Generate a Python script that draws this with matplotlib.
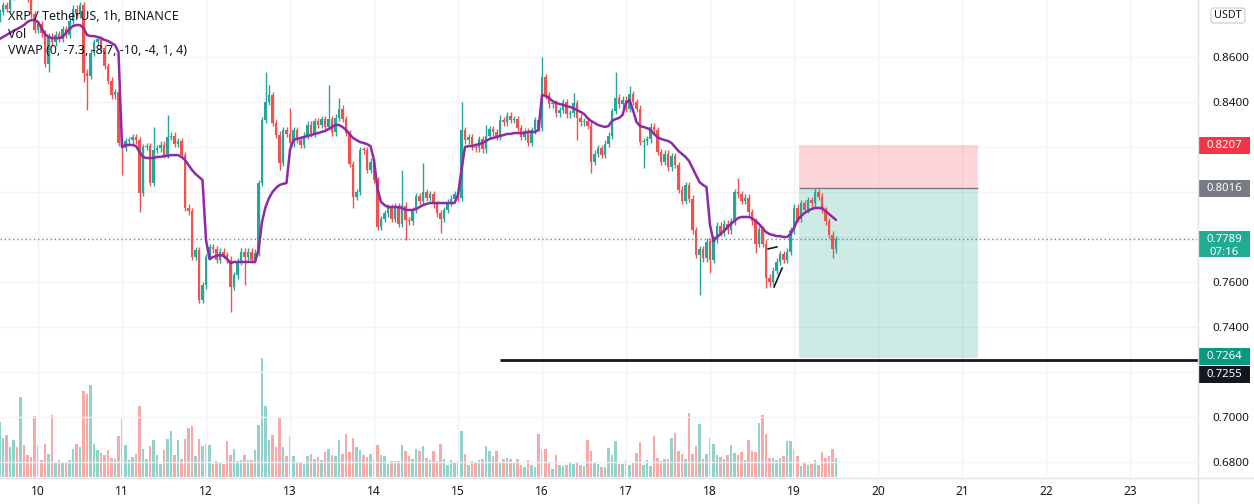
import numpy as np
import matplotlib
matplotlib.use("Agg")
import matplotlib.pyplot as plt
from matplotlib.patches import Rectangle, FancyBboxPatch
from matplotlib.lines import Line2D

# ---------------- data ----------------
first_hour = -11          # first candle, hours relative to day 10 00:00
first_open = 0.8770
closes = [
    0.8800, 0.8830, 0.8815, 0.8870, 0.8900, 0.8880, 0.8910, 0.8890, 0.8860, 0.8790,
    0.8720, 0.8745, 0.8705, 0.8570, 0.8690, 0.8665, 0.8700, 0.8680, 0.8725, 0.8700,
    0.8760, 0.8815, 0.8790, 0.8830, 0.8530, 0.8515, 0.8620, 0.8665, 0.8680, 0.8640,
    0.8560, 0.8495, 0.8430, 0.8445, 0.8220, 0.8196, 0.8227, 0.8230, 0.8245, 0.8230,
    0.7996, 0.8200, 0.8205, 0.8040, 0.8187, 0.8195, 0.8210, 0.8165, 0.8245, 0.8250,
    0.8215, 0.8225, 0.8165, 0.7930, 0.7915, 0.7711, 0.7742, 0.7520, 0.7585, 0.7711,
    0.7756, 0.7745, 0.7698, 0.7735, 0.7720, 0.7700, 0.7578, 0.7630, 0.7690, 0.7735,
    0.7710, 0.7735, 0.7700, 0.7730, 0.8040, 0.8320, 0.8400, 0.8430, 0.8307, 0.8254,
    0.8129, 0.8276, 0.8260, 0.8216, 0.8276, 0.8233, 0.8210, 0.8250, 0.8300, 0.8260,
    0.8316, 0.8300, 0.8324, 0.8290, 0.8324, 0.8265, 0.8330, 0.8370, 0.8325, 0.8262,
    0.8125, 0.7978, 0.8000, 0.8187, 0.8185, 0.8100, 0.8135, 0.8053, 0.7844, 0.7880,
    0.7905, 0.7930, 0.7880, 0.7935, 0.7860, 0.7940, 0.7875, 0.7870, 0.7920, 0.7982,
    0.7960, 0.8000, 0.7975, 0.7990, 0.7945, 0.7905, 0.7880, 0.7920, 0.7955, 0.7970,
    0.7990, 0.7975, 0.8276, 0.8230, 0.8245, 0.8200, 0.8195, 0.8235, 0.8190, 0.8250,
    0.8280, 0.8265, 0.8245, 0.8320, 0.8310, 0.8340, 0.8320, 0.8325, 0.8285, 0.8245,
    0.8270, 0.8220, 0.8275, 0.8320, 0.8285, 0.8511, 0.8430, 0.8390, 0.8395, 0.8350,
    0.8365, 0.8400, 0.8345, 0.8350, 0.8395, 0.8330, 0.8310, 0.8315, 0.8295, 0.8135,
    0.8170, 0.8195, 0.8165, 0.8215, 0.8250, 0.8360, 0.8420, 0.8390, 0.8410, 0.8370,
    0.8435, 0.8400, 0.8370, 0.8222, 0.8225, 0.8235, 0.8290, 0.8275, 0.8178, 0.8135,
    0.8170, 0.8110, 0.8160, 0.8120, 0.8010, 0.7960, 0.8030, 0.7970, 0.7830, 0.7720,
    0.7745, 0.7705, 0.7780, 0.7700, 0.7790, 0.7850, 0.7820, 0.7860, 0.7830, 0.7870,
    0.8000, 0.7990, 0.7960, 0.7975, 0.7910, 0.7870, 0.7770, 0.7835, 0.7770, 0.7620,
    0.7600, 0.7650, 0.7690, 0.7725, 0.7700, 0.7735, 0.7830, 0.7930, 0.7880, 0.7950,
    0.7920, 0.7965, 0.7950, 0.8000, 0.7980, 0.7920, 0.7870, 0.7810, 0.7745, 0.7789,
]
wick_high = {44: 0.8289, 48: 0.8342, 76: 0.8533, 77: 0.8476, 83: 0.8373, 94: 0.8476,
             97: 0.8420, 115: 0.8100, 121: 0.8129, 132: 0.8400, 139: 0.8300,
             143: 0.8342, 155: 0.8600, 164: 0.8440, 176: 0.8533, 180: 0.8470,
             211: 0.8062, 233: 0.8018}
wick_low = {14: 0.8533, 24: 0.8490, 25: 0.8364, 35: 0.8076, 40: 0.7911, 57: 0.7507,
            66: 0.7467, 70: 0.7587, 80: 0.8100, 101: 0.7929, 116: 0.7787, 126: 0.7818,
            165: 0.8231, 169: 0.8084, 184: 0.8107, 200: 0.7542, 203: 0.7640,
            216: 0.7729, 219: 0.7573, 220: 0.7580, 238: 0.7707}
volumes = [
    55, 39, 42, 30, 37, 30, 80, 32, 22, 20, 61, 32, 17, 33, 23, 62, 15, 17, 14, 15,
    17, 28, 33, 30, 86, 83, 92, 33, 27, 24, 22, 27, 19, 18, 41, 58, 32, 17, 20, 23,
    71, 28, 18, 31, 37, 22, 13, 27, 38, 46, 22, 37, 18, 38, 49, 51, 21, 38, 31, 33,
    32, 13, 16, 15, 13, 36, 22, 28, 16, 17, 22, 17, 17, 27, 52, 119, 71, 37, 42, 30,
    59, 30, 21, 41, 21, 15, 15, 13, 21, 23, 18, 20, 17, 25, 28, 22, 21, 37, 23, 43,
    25, 39, 30, 27, 22, 20, 23, 18, 32, 22, 21, 13, 16, 16, 16, 32, 26, 21, 18, 28,
    26, 31, 19, 17, 26, 16, 33, 18, 12, 17, 15, 16, 46, 23, 12, 16, 14, 17, 18, 31,
    26, 21, 26, 15, 18, 19, 18, 14, 18, 12, 10, 17, 12, 10, 43, 28, 28, 14, 8, 22,
    12, 11, 12, 15, 13, 14, 12, 11, 37, 26, 14, 13, 10, 10, 29, 22, 36, 13, 13, 17,
    12, 15, 24, 35, 12, 17, 11, 41, 19, 16, 18, 18, 39, 44, 26, 23, 18, 64, 23, 31,
    53, 18, 23, 39, 33, 22, 20, 18, 22, 32, 24, 22, 25, 17, 37, 26, 25, 54, 62, 43,
    19, 19, 17, 19, 21, 36, 36, 28, 21, 11, 14, 12, 13, 17, 12, 25, 19, 21, 28, 19,
]
vwap = [
    0.8680, 0.8689, 0.8698, 0.8707, 0.8716, 0.8724, 0.8733, 0.8742, 0.8756, 0.8764,
    0.8764, 0.8756, 0.8729, 0.8702, 0.8689, 0.8684, 0.8684, 0.8684, 0.8689, 0.8707,
    0.8724, 0.8738, 0.8742, 0.8742, 0.8729, 0.8698, 0.8693, 0.8693, 0.8689, 0.8684,
    0.8676, 0.8671, 0.8662, 0.8653, 0.8622, 0.8200, 0.8209, 0.8209, 0.8209, 0.8204,
    0.8178, 0.8156, 0.8151, 0.8151, 0.8151, 0.8156, 0.8156, 0.8160, 0.8160, 0.8164,
    0.8164, 0.8164, 0.8156, 0.8142, 0.8120, 0.8098, 0.8080, 0.8067, 0.8053, 0.7787,
    0.7702, 0.7711, 0.7716, 0.7720, 0.7716, 0.7702, 0.7684, 0.7689, 0.7689, 0.7689,
    0.7689, 0.7689, 0.7689, 0.7689, 0.7742, 0.7867, 0.7933, 0.7973, 0.8000, 0.8018,
    0.8031, 0.8036, 0.8040, 0.8187, 0.8231, 0.8236, 0.8240, 0.8244, 0.8249, 0.8253,
    0.8258, 0.8262, 0.8267, 0.8271, 0.8280, 0.8289, 0.8298, 0.8298, 0.8289, 0.8276,
    0.8258, 0.8240, 0.8231, 0.8222, 0.8218, 0.8213, 0.8204, 0.8142, 0.8013, 0.7956,
    0.7942, 0.7933, 0.7933, 0.7933, 0.7933, 0.7929, 0.7920, 0.7920, 0.7920, 0.7924,
    0.7933, 0.7942, 0.7947, 0.7951, 0.7951, 0.7951, 0.7951, 0.7951, 0.7951, 0.7951,
    0.7951, 0.7987, 0.8098, 0.8200, 0.8204, 0.8204, 0.8209, 0.8213, 0.8218, 0.8227,
    0.8236, 0.8240, 0.8244, 0.8249, 0.8253, 0.8258, 0.8258, 0.8262, 0.8262, 0.8262,
    0.8262, 0.8267, 0.8267, 0.8267, 0.8276, 0.8431, 0.8427, 0.8418, 0.8404, 0.8396,
    0.8391, 0.8387, 0.8382, 0.8378, 0.8373, 0.8364, 0.8356, 0.8347, 0.8329, 0.8316,
    0.8307, 0.8298, 0.8293, 0.8289, 0.8293, 0.8316, 0.8324, 0.8329, 0.8342, 0.8396,
    0.8409, 0.8364, 0.8311, 0.8293, 0.8289, 0.8284, 0.8276, 0.8258, 0.8244, 0.8236,
    0.8231, 0.8227, 0.8218, 0.8200, 0.8182, 0.8169, 0.8156, 0.8138, 0.8107, 0.8076,
    0.8044, 0.8031, 0.8022, 0.7853, 0.7782, 0.7800, 0.7813, 0.7827, 0.7844, 0.7858,
    0.7871, 0.7884, 0.7889, 0.7889, 0.7889, 0.7884, 0.7871, 0.7858, 0.7840, 0.7822,
    0.7813, 0.7809, 0.7804, 0.7804, 0.7800, 0.7800, 0.7813, 0.7840, 0.7876, 0.7893,
    0.7907, 0.7916, 0.7924, 0.7929, 0.7929, 0.7929, 0.7916, 0.7902, 0.7889, 0.7876,
]
day_labels = [10, 11, 12, 13, 14, 15, 16, 17, 18, 19, 20, 21, 22, 23]
bold_days = [14, 21]
price_ticks = [0.68, 0.70, 0.72, 0.74, 0.76, 0.78, 0.80, 0.82, 0.84, 0.86]
current_price = 0.7789
countdown = "07:16"
stop_price = 0.8207
entry_price = 0.8016
target_price = 0.7264
ray_price = 0.7255
ray_start = 132
position_start, position_end = 217.5, 268.5
flag_lines = [((208.6, 0.7747), (211.1, 0.7756)), ((210.3, 0.7578), (212.6, 0.7662))]
title_lines = ["XRP / TetherUS, 1h, BINANCE", "Vol", "VWAP (0, -7.3, -8.7, -10, -4, 1, 4)"]

# ---------------- style ----------------
W, H = 1254, 504
PLOT_W, PLOT_H = 1197, 477
UP, DOWN = "#26a69a", "#ef5350"
UP_VOL, DOWN_VOL = "#92d2cc", "#f7a9a7"
TXT = "#131722"
GRID = "#f0f3fa"
FONT = ["Noto Sans", "DejaVu Sans"]
plt.rcParams["font.family"] = FONT

fig = plt.figure(figsize=(W / 100, H / 100), dpi=100)
fig.patch.set_facecolor("white")
rect = [0, (H - PLOT_H) / H, PLOT_W / W, PLOT_H / H]

axv = fig.add_axes(rect, zorder=0)
ax = fig.add_axes(rect, zorder=1, sharex=axv)
ax.patch.set_alpha(0)

n = len(closes)
t = np.arange(n) + first_hour
c = np.array(closes)
o = np.concatenate([[first_open], c[:-1]])
pad = 0.0015
hi = np.maximum(o, c) + pad
lo = np.minimum(o, c) - pad
for k, v in wick_high.items():
    hi[k] = v
for k, v in wick_low.items():
    lo[k] = v
up = c >= o
cols = np.where(up, UP, DOWN)

xmin = -38 / 3.5
xmax = xmin + PLOT_W / 3.5
ymax = 0.86 + 57 / 2250
ymin = ymax - PLOT_H / 2250

# volume
axv.bar(t, volumes, width=0.6, color=np.where(up, UP_VOL, DOWN_VOL), linewidth=0)
axv.set_ylim(0, PLOT_H)
axv.set_xlim(xmin, xmax)
axv.set_yticks([])
for s in axv.spines.values():
    s.set_visible(False)
axv.set_xticks([24 * (d - 10) for d in day_labels])
axv.grid(axis="x", color=GRID, lw=1)
axv.tick_params(axis="x", length=0, labelbottom=False)

# price pane
badge_prices = [stop_price, entry_price, current_price, target_price, ray_price]
ax.set_xlim(xmin, xmax)
ax.set_ylim(ymin, ymax)
for p in price_ticks:
    ax.axhline(p, color=GRID, lw=1, zorder=0)
# tick labels only where no price badge covers them
shown = [p for p in price_ticks if min(abs(p - b) for b in badge_prices) >= 0.005]
ax.set_yticks(shown)
ax.yaxis.tick_right()
ax.set_yticklabels([f"{p:.4f}" for p in shown])
ax.tick_params(axis="y", length=0, pad=11, labelsize=8.4, labelcolor=TXT)
ax.set_xticks([24 * (d - 10) for d in day_labels])
ax.set_xticklabels([str(d) for d in day_labels])
ax.tick_params(axis="x", length=0, pad=6, labelsize=8.6, labelcolor=TXT)
for lbl in ax.get_xticklabels():
    if int(lbl.get_text()) in bold_days:
        lbl.set_fontweight("bold")
for s in ax.spines.values():
    s.set_visible(False)

# position tool
ax.add_patch(Rectangle((position_start, entry_price), position_end - position_start,
                       stop_price - entry_price, facecolor=(242/255, 54/255, 69/255, 0.2),
                       edgecolor="none", zorder=1))
ax.add_patch(Rectangle((position_start, target_price), position_end - position_start,
                       entry_price - target_price, facecolor=(8/255, 153/255, 129/255, 0.2),
                       edgecolor="none", zorder=1))
ax.hlines(entry_price, position_start, position_end, color="#787b86", lw=1, zorder=2)

# candles
ax.vlines(t, lo, hi, colors=cols, lw=1, zorder=3)
body = np.where(np.abs(c - o) < 0.0005, 0.0005, np.abs(c - o))
ax.bar(t, body, bottom=np.minimum(o, c), width=0.7, color=cols, linewidth=0, zorder=4)

# vwap
ax.plot(t, vwap, color="#8e2aa6", lw=1.8, zorder=5, solid_capstyle="round")

# drawings
ax.axhline(current_price, color=UP, lw=1, ls=(0, (1, 2)), zorder=2)
ax.hlines(ray_price, ray_start, xmax + 1, color=TXT, lw=2, zorder=6, clip_on=False)
for (x0, y0), (x1, y1) in flag_lines:
    ax.plot([x0, x1], [y0, y1], color=TXT, lw=1.2, zorder=6)

# legend text
for k, s in enumerate(title_lines):
    ax.text(8 / PLOT_W, 1 - (17 + 17 * k) / PLOT_H, s, transform=ax.transAxes,
            fontsize=9.0, color=TXT, va="center", ha="left",
            fontweight="semibold" if k == 0 else "normal", zorder=10)

# overlay (pixel coordinates) for axis frame and price badges
ov = fig.add_axes([0, 0, 1, 1], zorder=10)
ov.set_xlim(0, W)
ov.set_ylim(H, 0)
ov.axis("off")
ov.patch.set_alpha(0)
ov.add_line(Line2D([PLOT_W + 0.5, PLOT_W + 0.5], [0, H], color="#e0e3eb", lw=1))
ov.add_line(Line2D([0, W], [PLOT_H + 0.5, PLOT_H + 0.5], color="#e0e3eb", lw=1))


def py(p):
    return H - ax.transData.transform((0, p))[1]


def badge(yc, text, color, h=17):
    ov.add_patch(Rectangle((PLOT_W + 1, yc - h / 2), 52, h, facecolor=color, edgecolor="none"))
    ov.text(PLOT_W + 27, yc, text, color="white", fontsize=8.2, ha="center", va="center")


badge(py(stop_price), f"{stop_price:.4f}", "#f23645")
badge(py(entry_price), f"{entry_price:.4f}", "#787b86")
yc = py(current_price)
ov.add_patch(Rectangle((PLOT_W + 1, yc - 8.5), 52, 26, facecolor="#22ab94", edgecolor="none"))
ov.text(PLOT_W + 27, yc, f"{current_price:.4f}", color="white", fontsize=8.2, ha="center", va="center")
ov.text(PLOT_W + 27, yc + 13, countdown, color="white", fontsize=8.2, ha="center", va="center")
yt = py(target_price) - 1
badge(yt, f"{target_price:.4f}", "#089981")
yr = max(py(ray_price), yt + 18)
badge(yr, f"{ray_price:.4f}", TXT)

ov.add_patch(FancyBboxPatch((1211, 8), 34, 15, boxstyle="round,pad=0,rounding_size=3",
                            facecolor="white", edgecolor="#d1d4dc", lw=1))
ov.text(1228, 15.5, "USDT", color=TXT, fontsize=7.8, ha="center", va="center")

fig.savefig("out.png", dpi=100)
